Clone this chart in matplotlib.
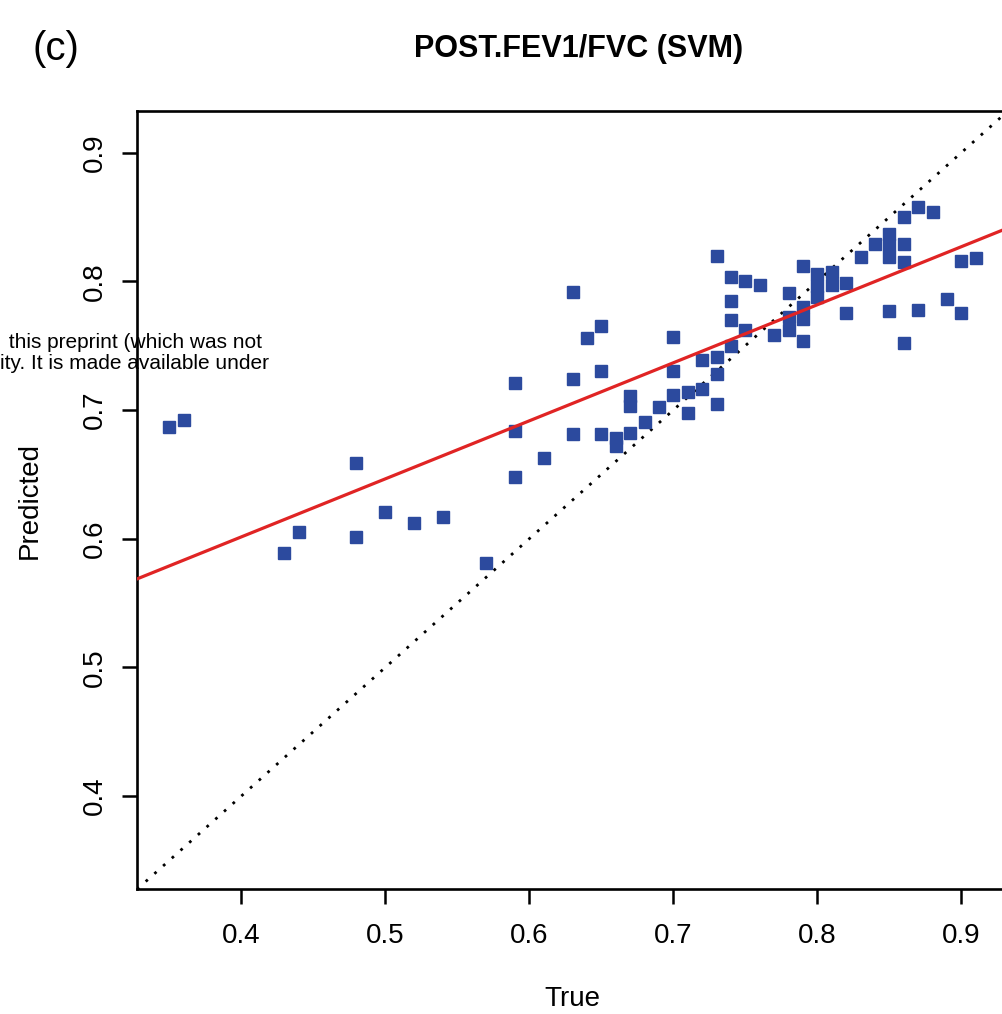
import matplotlib
matplotlib.use("Agg")
import matplotlib.pyplot as plt
import numpy as np

plt.rcParams["font.family"] = ["Liberation Sans", "DejaVu Sans"]

true_vals = [
    0.35, 0.36, 0.43, 0.44, 0.48, 0.48, 0.50, 0.52, 0.54, 0.57,
    0.59, 0.59, 0.59, 0.61, 0.63, 0.63, 0.63, 0.64, 0.65, 0.65,
    0.65, 0.66, 0.66, 0.67, 0.67, 0.67, 0.68, 0.69, 0.70, 0.70,
    0.70, 0.71, 0.71, 0.72, 0.72, 0.73, 0.73, 0.73, 0.73, 0.74,
    0.74, 0.74, 0.74, 0.75, 0.75, 0.76, 0.77, 0.78, 0.78, 0.78,
    0.79, 0.79, 0.79, 0.79, 0.80, 0.80, 0.80, 0.81, 0.81, 0.82,
    0.82, 0.83, 0.84, 0.85, 0.85, 0.85, 0.85, 0.86, 0.86, 0.86,
    0.86, 0.87, 0.87, 0.88, 0.89, 0.90, 0.90, 0.91,
]
pred_vals = [
    0.687, 0.692, 0.589, 0.605, 0.659, 0.601, 0.621, 0.612, 0.617, 0.581,
    0.721, 0.684, 0.648, 0.663, 0.792, 0.724, 0.681, 0.756, 0.765, 0.730,
    0.681, 0.678, 0.672, 0.711, 0.703, 0.682, 0.691, 0.702, 0.757, 0.730,
    0.712, 0.714, 0.698, 0.739, 0.716, 0.820, 0.741, 0.728, 0.705, 0.803,
    0.785, 0.770, 0.750, 0.800, 0.762, 0.797, 0.758, 0.791, 0.772, 0.762,
    0.812, 0.780, 0.771, 0.754, 0.806, 0.796, 0.788, 0.807, 0.797, 0.799,
    0.775, 0.819, 0.829, 0.837, 0.828, 0.819, 0.777, 0.850, 0.829, 0.815,
    0.752, 0.858, 0.778, 0.854, 0.786, 0.816, 0.775, 0.818,
]

# fitted regression line (intercept, slope)
fit_intercept = 0.421
fit_slope = 0.451

ticks = [0.4, 0.5, 0.6, 0.7, 0.8, 0.9]
tick_labels = ["0.4", "0.5", "0.6", "0.7", "0.8", "0.9"]

color_pts = "#2C4A9E"
color_fit = "#E02424"

true_vals = np.array(true_vals)
pred_vals = np.array(pred_vals)

# R style limits: range of all values extended by 4%
lo = min(true_vals.min(), pred_vals.min())
hi = max(true_vals.max(), pred_vals.max())
pad = 0.04 * (hi - lo)
lims = (lo - pad, hi + pad)

fig = plt.figure(figsize=(10.03, 10.14), dpi=100)
ax = fig.add_axes([0.1366, 0.1230, 0.8684, 0.7676])

ax.plot(lims, lims, color="black", lw=2.0, linestyle=(0, (1, 3.2)), zorder=2)
ax.plot(true_vals, pred_vals, "s", ms=9, color=color_pts, mec=color_pts, zorder=3)
xs = np.array(lims)
ax.plot(xs, fit_intercept + fit_slope * xs, color=color_fit, lw=2.3, zorder=4)

ax.set_xlim(lims)
ax.set_ylim(lims)
ax.set_xticks(ticks)
ax.set_xticklabels(tick_labels)
ax.set_yticks(ticks)
ax.set_yticklabels(tick_labels, rotation=90, va="center")
ax.tick_params(length=11, width=1.8, labelsize=20, pad=13)
ax.tick_params("y", pad=10)
for sp in ax.spines.values():
    sp.set_linewidth(1.9)

ax.set_xlabel("True", fontsize=20, labelpad=27)
ax.set_ylabel("Predicted", fontsize=20, labelpad=28)

fig.text(0.577, 0.952, "POST.FEV1/FVC (SVM)", fontsize=22, fontweight="bold",
         ha="center", va="center")
fig.text(0.032, 0.952, "(c)", fontsize=29, ha="left", va="center")

# clipped page header text overlapping the chart
fig.text(0.003, 0.662, " this preprint (which was not", fontsize=15,
         ha="left", va="center", zorder=10)
fig.text(0.0, 0.642, "ity. It is made available under", fontsize=15,
         ha="left", va="center", zorder=10)

fig.savefig("out.png", dpi=100)
plt.close("all")
